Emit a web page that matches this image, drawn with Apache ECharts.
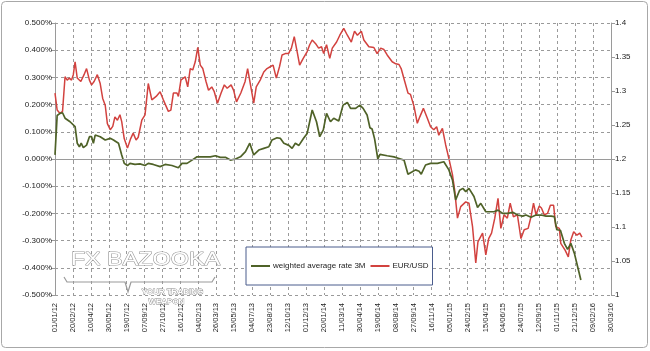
<!DOCTYPE html>
<html>
<head>
<meta charset="utf-8">
<script src="https://cdn.jsdelivr.net/npm/echarts@6/dist/echarts.min.js"></script>
<style>
html, body { margin: 0; padding: 0; background: #fff; }
#rateChart { width: 650px; height: 351px; }
</style>
</head>
<body>
<div id="rateChart"></div>
<script>
// x axis: days from 01/01/12, a tick every 50 days up to 30/03/16
var axisStart = '2012-01-01'
var axisEnd = '2016-03-30'
var tickDays = 50

// weighted average rate 3M (%)
var rateDates = [
  '2012-01-01', '2012-01-07', '2012-01-15', '2012-01-22', '2012-01-29', '2012-02-12', '2012-02-26', '2012-03-03',
  '2012-03-09', '2012-03-14', '2012-03-20', '2012-03-29', '2012-04-06', '2012-04-12', '2012-04-17', '2012-04-22',
  '2012-05-06', '2012-05-20', '2012-06-03', '2012-06-12', '2012-06-26', '2012-07-05', '2012-07-12', '2012-07-21',
  '2012-07-28', '2012-08-11', '2012-08-25', '2012-09-08', '2012-09-17', '2012-10-01', '2012-10-20', '2012-11-03',
  '2012-11-22', '2012-12-10', '2012-12-20', '2013-01-03', '2013-01-17', '2013-01-31', '2013-02-18', '2013-03-09',
  '2013-03-23', '2013-04-06', '2013-04-20', '2013-05-04', '2013-05-18', '2013-06-01', '2013-06-15', '2013-06-27',
  '2013-07-08', '2013-07-22', '2013-08-05', '2013-08-19', '2013-08-28', '2013-09-11', '2013-09-20', '2013-09-30',
  '2013-10-14', '2013-10-23', '2013-11-01', '2013-11-11', '2013-11-24', '2013-12-04', '2013-12-18', '2013-12-30',
  '2014-01-08', '2014-01-18', '2014-01-27', '2014-02-07', '2014-02-16', '2014-03-02', '2014-03-14', '2014-03-26',
  '2014-04-04', '2014-04-18', '2014-04-30', '2014-05-09', '2014-05-20', '2014-05-28', '2014-06-03', '2014-06-10',
  '2014-06-15', '2014-06-19', '2014-06-25', '2014-07-15', '2014-08-03', '2014-08-17', '2014-08-31', '2014-09-11',
  '2014-09-23', '2014-10-02', '2014-10-12', '2014-10-18', '2014-10-30', '2014-11-13', '2014-12-02', '2014-12-20',
  '2015-01-03', '2015-01-13', '2015-01-22', '2015-02-02', '2015-02-11', '2015-02-19', '2015-02-28', '2015-03-14',
  '2015-03-24', '2015-04-02', '2015-04-16', '2015-04-25', '2015-05-09', '2015-05-20', '2015-06-02', '2015-06-16',
  '2015-06-30', '2015-07-14', '2015-07-28', '2015-08-06', '2015-08-20', '2015-09-03', '2015-09-17', '2015-10-01',
  '2015-10-15', '2015-10-24', '2015-10-31', '2015-11-10', '2015-11-21', '2015-11-30', '2015-12-09', '2015-12-19',
  '2015-12-28', '2016-01-06'
]
var rateValues = [
  0.015, 0.16, 0.168, 0.17, 0.15, 0.137, 0.119, 0.058,
  0.045, 0.058, 0.042, 0.051, 0.082, 0.082, 0.058, 0.088,
  0.082, 0.07, 0.076, 0.07, 0.058, 0.015, -0.016, -0.024,
  -0.016, -0.02, -0.018, -0.024, -0.016, -0.02, -0.028, -0.02,
  -0.024, -0.032, -0.016, -0.016, -0.004, 0.008, 0.008, 0.008,
  0.012, 0.006, 0.006, -0.004, 0.0, 0.008, 0.027, 0.058,
  0.015, 0.033, 0.039, 0.045, 0.07, 0.078, 0.076, 0.058,
  0.05, 0.039, 0.058, 0.05, 0.076, 0.094, 0.18, 0.137,
  0.082, 0.107, 0.168, 0.137, 0.15, 0.14, 0.198, 0.208,
  0.186, 0.186, 0.198, 0.186, 0.162, 0.115, 0.11, 0.074,
  0.033, 0.0, 0.017, 0.012, 0.008, 0.002, -0.004, -0.056,
  -0.047, -0.04, -0.045, -0.056, -0.022, -0.016, -0.016, -0.01,
  -0.04, -0.077, -0.15, -0.115, -0.108, -0.12, -0.108, -0.138,
  -0.178, -0.163, -0.194, -0.194, -0.194, -0.188, -0.2, -0.2,
  -0.196, -0.206, -0.21, -0.206, -0.214, -0.206, -0.206, -0.21,
  -0.21, -0.212, -0.26, -0.262, -0.31, -0.332, -0.31, -0.347,
  -0.396, -0.445
]

// EUR/USD
var eurDates = [
  '2012-01-01', '2012-01-07', '2012-01-15', '2012-01-22', '2012-01-29', '2012-02-04', '2012-02-10', '2012-02-16',
  '2012-02-21', '2012-02-26', '2012-03-03', '2012-03-13', '2012-03-22', '2012-03-29', '2012-04-06', '2012-04-12',
  '2012-04-19', '2012-04-28', '2012-05-06', '2012-05-13', '2012-05-20', '2012-05-26', '2012-06-03', '2012-06-10',
  '2012-06-16', '2012-06-23', '2012-06-30', '2012-07-05', '2012-07-12', '2012-07-21', '2012-07-30', '2012-08-06',
  '2012-08-14', '2012-08-20', '2012-08-30', '2012-09-08', '2012-09-17', '2012-09-27', '2012-10-09', '2012-10-20',
  '2012-10-29', '2012-11-12', '2012-11-19', '2012-11-26', '2012-12-06', '2012-12-10', '2012-12-17', '2012-12-29',
  '2013-01-05', '2013-01-12', '2013-01-19', '2013-01-26', '2013-02-02', '2013-02-09', '2013-02-16', '2013-02-25',
  '2013-03-04', '2013-03-13', '2013-03-20', '2013-03-29', '2013-04-08', '2013-04-17', '2013-04-25', '2013-05-06',
  '2013-05-13', '2013-05-21', '2013-06-02', '2013-06-14', '2013-06-21', '2013-06-30', '2013-07-08', '2013-07-15',
  '2013-07-26', '2013-08-05', '2013-08-14', '2013-08-24', '2013-08-31', '2013-09-09', '2013-09-18', '2013-09-25',
  '2013-10-04', '2013-10-13', '2013-10-21', '2013-10-29', '2013-11-06', '2013-11-13', '2013-11-23', '2013-12-04',
  '2013-12-11', '2013-12-18', '2013-12-27', '2014-01-05', '2014-01-13', '2014-01-19', '2014-01-27', '2014-02-05',
  '2014-02-12', '2014-02-24', '2014-03-05', '2014-03-16', '2014-03-26', '2014-04-06', '2014-04-15', '2014-04-23',
  '2014-05-04', '2014-05-11', '2014-05-25', '2014-06-08', '2014-06-17', '2014-06-27', '2014-07-06', '2014-07-15',
  '2014-07-29', '2014-08-08', '2014-08-17', '2014-08-23', '2014-09-02', '2014-09-11', '2014-09-18', '2014-09-28',
  '2014-10-07', '2014-10-14', '2014-10-24', '2014-11-04', '2014-11-13', '2014-11-22', '2014-11-30', '2014-12-06',
  '2014-12-16', '2014-12-25', '2015-01-03', '2015-01-13', '2015-01-19', '2015-01-27', '2015-02-05', '2015-02-19',
  '2015-02-28', '2015-03-10', '2015-03-19', '2015-03-25', '2015-04-07', '2015-04-16', '2015-04-24', '2015-05-02',
  '2015-05-11', '2015-05-20', '2015-05-28', '2015-06-06', '2015-06-15', '2015-06-23', '2015-07-02', '2015-07-13',
  '2015-07-23', '2015-08-01', '2015-08-12', '2015-08-20', '2015-08-27', '2015-09-03', '2015-09-12', '2015-09-18',
  '2015-09-26', '2015-10-05', '2015-10-13', '2015-10-22', '2015-10-28', '2015-11-07', '2015-11-11', '2015-11-23',
  '2015-12-02', '2015-12-09', '2015-12-17', '2015-12-26', '2016-01-03', '2016-01-09'
]
var eurValues = [
  1.297, 1.272, 1.267, 1.27, 1.321, 1.316, 1.319, 1.316,
  1.324, 1.343, 1.319, 1.314, 1.324, 1.333, 1.316, 1.309,
  1.314, 1.324, 1.311, 1.289, 1.279, 1.252, 1.243, 1.248,
  1.262, 1.257, 1.265, 1.255, 1.23, 1.216, 1.23, 1.238,
  1.228, 1.232, 1.257, 1.265, 1.311, 1.287, 1.292, 1.299,
  1.287, 1.27, 1.272, 1.297, 1.297, 1.292, 1.316, 1.321,
  1.306, 1.333, 1.331, 1.343, 1.364, 1.338, 1.333, 1.314,
  1.301, 1.306, 1.299, 1.282, 1.297, 1.309, 1.304, 1.309,
  1.301, 1.284, 1.297, 1.314, 1.333, 1.306, 1.282, 1.306,
  1.316, 1.328, 1.333, 1.336, 1.338, 1.319, 1.336, 1.353,
  1.355, 1.355, 1.363, 1.38, 1.358, 1.338, 1.348, 1.358,
  1.368, 1.375, 1.37, 1.363, 1.365, 1.355, 1.368, 1.348,
  1.363, 1.372, 1.382, 1.392, 1.382, 1.372, 1.388, 1.382,
  1.388, 1.375, 1.365, 1.364, 1.355, 1.363, 1.361, 1.353,
  1.343, 1.34, 1.339, 1.333, 1.314, 1.297, 1.295, 1.277,
  1.2525, 1.262, 1.2745, 1.26, 1.2475, 1.243, 1.2475, 1.235,
  1.245, 1.221, 1.201, 1.177, 1.155, 1.113, 1.13, 1.137,
  1.135, 1.1005, 1.047, 1.078, 1.091, 1.059, 1.083, 1.091,
  1.113, 1.142, 1.098, 1.118, 1.113, 1.135, 1.115, 1.118,
  1.083, 1.096, 1.098, 1.115, 1.135, 1.118, 1.131, 1.128,
  1.118, 1.12, 1.132, 1.132, 1.1005, 1.098, 1.076, 1.066,
  1.056, 1.081, 1.093, 1.088, 1.091, 1.085
]

var DAY = 86400000
var t0 = Date.parse(axisStart + 'T00:00:00Z')
function dayOf(s) {
  return Math.round((Date.parse(s + 'T00:00:00Z') - t0) / DAY)
}
function pad(n) {
  return n < 10 ? '0' + n : '' + n
}
function dateLabel(v) {
  var d = new Date(t0 + v * DAY)
  return pad(d.getUTCDate()) + '/' + pad(d.getUTCMonth() + 1) + '/' + pad(d.getUTCFullYear() % 100)
}
function pairs(dates, values) {
  return dates.map(function(s, i) { return [dayOf(s), values[i]] })
}

var gridColor = '#9a9a9a'
var labelColor = '#222'
var chart = echarts.init(document.getElementById('rateChart'))
var option = {
  animation: false,
  backgroundColor: '#fff',
  grid: { left: 55, right: 39, top: 23, bottom: 56 },
  legend: {
    left: 246,
    top: 247,
    padding: [13, 4, 13, 5],
    itemGap: 5,
    itemWidth: 19,
    itemHeight: 2,
    icon: 'rect',
    backgroundColor: '#fff',
    borderColor: '#4a5c8c',
    borderWidth: 1,
    textStyle: { fontFamily: 'Arial', fontSize: 8, color: labelColor, padding: [0, 0, 0, -2], lineHeight: 12 },
    data: ['weighted average rate 3M', 'EUR/USD']
  },
  xAxis: {
    type: 'value',
    min: 0,
    max: dayOf(axisEnd),
    interval: tickDays,
    axisLine: { show: false },
    axisTick: { show: true, length: 3, lineStyle: { color: gridColor } },
    axisLabel: {
      rotate: 90,
      margin: 8,
      fontFamily: 'Arial',
      fontSize: 7.5,
      color: labelColor,
      formatter: dateLabel
    },
    splitLine: { show: true, lineStyle: { color: gridColor, type: [3, 3], width: 1 } }
  },
  yAxis: [
    {
      type: 'value',
      min: -0.5,
      max: 0.5,
      interval: 0.1,
      axisLine: { show: true, lineStyle: { color: gridColor } },
      axisTick: { show: true, length: 4, lineStyle: { color: gridColor } },
      axisLabel: {
        margin: 3,
        fontFamily: 'Arial',
        fontSize: 8,
        color: labelColor,
        formatter: function(v) { return v.toFixed(3) + '%' }
      },
      splitLine: { show: true, lineStyle: { color: gridColor, type: [3, 3], width: 1 } }
    },
    {
      type: 'value',
      min: 1,
      max: 1.4,
      interval: 0.05,
      axisLine: { show: true, lineStyle: { color: gridColor } },
      axisTick: { show: true, length: 4, lineStyle: { color: gridColor } },
      axisLabel: {
        margin: 4,
        fontFamily: 'Arial',
        fontSize: 8,
        color: labelColor,
        formatter: function(v) { return String(Math.round(v * 100) / 100) }
      },
      splitLine: { show: false }
    }
  ],
  series: [
    {
      name: 'weighted average rate 3M',
      type: 'line',
      yAxisIndex: 0,
      showSymbol: false,
      symbol: 'none',
      data: pairs(rateDates, rateValues),
      itemStyle: { color: '#4f6228' },
      lineStyle: { color: '#4f6228', width: 1.7 },
      z: 3,
      markLine: {
        silent: true,
        symbol: ['none', 'none'],
        label: { show: false },
        lineStyle: { color: gridColor, type: 'solid', width: 1 },
        data: [{ yAxis: 0 }]
      }
    },
    {
      name: 'EUR/USD',
      type: 'line',
      yAxisIndex: 1,
      showSymbol: false,
      symbol: 'none',
      data: pairs(eurDates, eurValues),
      itemStyle: { color: '#d2423f' },
      lineStyle: { color: '#d2423f', width: 1.5 },
      z: 2
    }
  ],
  graphic: [
    {
      type: 'rect',
      shape: { x: 1.5, y: 1.5, width: 646, height: 346, r: 4 },
      style: { fill: 'none', stroke: '#a8a8a8', lineWidth: 1 },
      silent: true,
      z: -10
    },
    {
      type: 'text',
      left: 70,
      top: 251,
      scaleX: 1.3,
      style: {
        text: 'FX BAZOOKA',
        font: '18px Arial',
        fill: '#ffffff',
        stroke: '#9a9a9a',
        lineWidth: 1,
        shadowColor: 'rgba(0,0,0,0.35)',
        shadowBlur: 2,
        shadowOffsetX: 1,
        shadowOffsetY: 1
      },
      silent: true,
      z: 100
    },
    {
      type: 'polyline',
      shape: { points: [[64, 277], [67, 282], [125, 282], [128, 292], [131, 282], [212, 282], [215, 277]] },
      style: { fill: 'none', stroke: '#9a9a9a', lineWidth: 1.2 },
      silent: true,
      z: 100
    },
    {
      type: 'text',
      left: 141,
      top: 287,
      style: {
        text: 'YOUR TRADING',
        font: 'bold 8px Arial',
        fill: '#ffffff',
        stroke: '#8a8a8a',
        lineWidth: 0.8
      },
      silent: true,
      z: 100
    },
    {
      type: 'text',
      left: 148,
      top: 297,
      style: {
        text: 'WEAPON',
        font: 'bold 8px Arial',
        fill: '#ffffff',
        stroke: '#8a8a8a',
        lineWidth: 0.8
      },
      silent: true,
      z: 100
    }
  ]
}
chart.setOption(option)
</script>
</body>
</html>
